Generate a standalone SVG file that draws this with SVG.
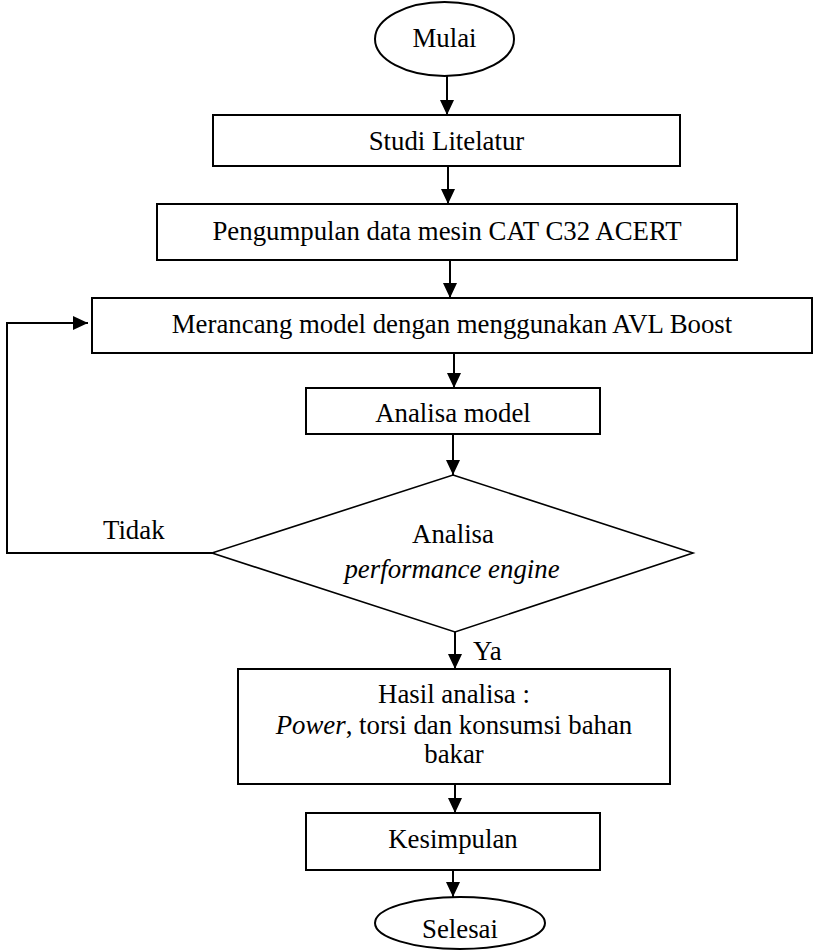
<svg xmlns="http://www.w3.org/2000/svg" width="813" height="950" viewBox="0 0 813 950">
<style>
.box{fill:#fff;stroke:#000;stroke-width:2}
.dia{fill:#fff;stroke:#000;stroke-width:1.6}
.t{font-family:"Liberation Serif","Times New Roman",serif;font-size:26.8px;fill:#000;text-anchor:middle}
.l{font-family:"Liberation Serif","Times New Roman",serif;font-size:26.8px;fill:#000}
.c{fill:none;stroke:#000;stroke-width:2}
</style>
<defs>
<marker id="ah" markerWidth="15" markerHeight="14" refX="15" refY="7" orient="auto" markerUnits="userSpaceOnUse">
<path d="M0,0 L15,7 L0,14 Z" fill="#000"/>
</marker>
</defs>
<rect width="813" height="950" fill="#fff"/>
<g id="connectors">
<line class="c" x1="447" y1="76" x2="447" y2="115" marker-end="url(#ah)"/>
<line class="c" x1="448" y1="166" x2="448" y2="204" marker-end="url(#ah)"/>
<line class="c" x1="450" y1="260" x2="450" y2="298" marker-end="url(#ah)"/>
<line class="c" x1="454" y1="353" x2="454" y2="388" marker-end="url(#ah)"/>
<line class="c" x1="453" y1="434" x2="453" y2="475" marker-end="url(#ah)"/>
<line class="c" x1="455" y1="632" x2="455" y2="669" marker-end="url(#ah)"/>
<line class="c" x1="455" y1="784" x2="455" y2="813" marker-end="url(#ah)"/>
<line class="c" x1="453" y1="870" x2="453" y2="897" marker-end="url(#ah)"/>
<polyline class="c" points="212,553 7,553 7,323 88,323" marker-end="url(#ah)"/>
<text class="l" x="103" y="539">Tidak</text>
<text class="l" x="473" y="660">Ya</text>
</g>
<g id="mulai">
<ellipse cx="444.5" cy="39" rx="69.5" ry="37" class="box"/>
<text class="t" x="444.5" y="47">Mulai</text>
</g>
<g id="studi">
<rect x="213" y="115" width="467" height="51" class="box"/>
<text class="t" x="446.5" y="150">Studi Litelatur</text>
</g>
<g id="pengumpulan">
<rect x="157" y="204" width="580" height="56" class="box"/>
<text class="t" x="447" y="240">Pengumpulan data mesin CAT C32 ACERT</text>
</g>
<g id="merancang">
<rect x="92" y="298" width="720" height="55" class="box"/>
<text class="t" x="452" y="333">Merancang model dengan menggunakan AVL Boost</text>
</g>
<g id="analisa-model">
<rect x="306" y="388" width="294" height="46" class="box"/>
<text class="t" x="453" y="422">Analisa model</text>
</g>
<g id="keputusan">
<polygon points="453,475 693,553 455,632 212,553" class="dia"/>
<text class="t" x="453" y="543">Analisa</text>
<text class="t" x="452" y="578" font-style="italic">performance engine</text>
</g>
<g id="hasil">
<rect x="238" y="669" width="432" height="115" class="box"/>
<text class="t" x="454" y="703">Hasil analisa :</text>
<text class="t" x="454" y="734"><tspan font-style="italic">Power</tspan>, torsi dan konsumsi bahan</text>
<text class="t" x="454" y="763">bakar</text>
</g>
<g id="kesimpulan">
<rect x="306" y="813" width="294" height="57" class="box"/>
<text class="t" x="453" y="848">Kesimpulan</text>
</g>
<g id="selesai">
<ellipse cx="460" cy="923" rx="85" ry="26" class="box"/>
<text class="t" x="460" y="938">Selesai</text>
</g>
</svg>
